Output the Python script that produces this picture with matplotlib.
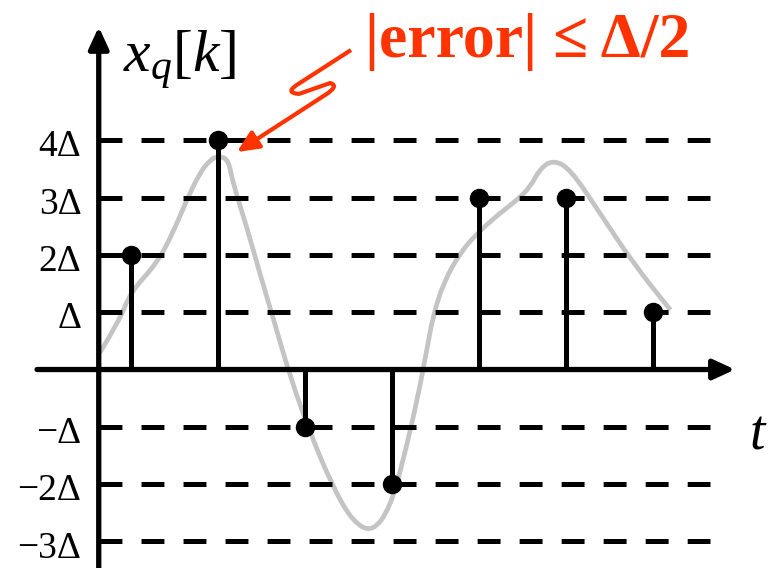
import matplotlib
matplotlib.use("Agg")
from matplotlib import pyplot as plt
from matplotlib.path import Path
from matplotlib.patches import PathPatch

plt.rcParams['font.family'] = ['Liberation Serif', 'DejaVu Serif']
plt.rcParams['mathtext.fontset'] = 'custom'
plt.rcParams['mathtext.rm'] = 'Liberation Serif'
plt.rcParams['mathtext.it'] = 'Liberation Serif:italic'
plt.rcParams['lines.scale_dashes'] = False

# quantized samples x_q[k], in units of delta
sample_t = [0, 1, 2, 3, 4, 5, 6]
sample_q = [2, 4, -1, -2, 3, 3, 1]

# quantization levels and their labels
levels = [4, 3, 2, 1, -1, -2, -3]
level_labels = ['4Δ', '3Δ', '2Δ', 'Δ', '−Δ', '−2Δ', '−3Δ']

# underlying continuous signal (same units)
curve_t = [-0.36, -0.13, -0.01, 0.30, 0.48, 0.64, 0.79, 0.91, 1.01, 1.12, 1.17,
           1.33, 1.48, 1.63, 1.83, 2.06, 2.32, 2.55, 2.78, 2.98, 3.13, 3.29,
           3.40, 3.47, 3.59, 3.78, 3.98, 4.24, 4.44, 4.59, 4.70, 4.85, 5.05,
           5.39, 5.77, 6.20]
curve_v = [0.29, 0.86, 1.34, 1.86, 2.38, 2.96, 3.43, 3.66, 3.73, 3.66, 3.26,
           2.49, 1.68, 0.92, -0.13, -1.11, -2.05, -2.66, -2.84, -2.40, -1.58, -0.53,
           0.34, 0.92, 1.51, 2.03, 2.38, 2.73, 2.96, 3.19, 3.50, 3.66, 3.50,
           2.73, 1.86, 1.04]

red = '#ff3300'


def smooth_path(xs, ys):
    # quadratic bezier through the midpoints, the read points act as controls
    pts = list(zip(xs, ys))
    verts = [pts[0]]
    codes = [Path.MOVETO]
    for i in range(1, len(pts) - 1):
        mid = ((pts[i][0] + pts[i + 1][0]) / 2, (pts[i][1] + pts[i + 1][1]) / 2)
        verts += [pts[i], mid]
        codes += [Path.CURVE3, Path.CURVE3]
    verts.append(pts[-1])
    codes.append(Path.LINETO)
    return Path(verts, codes)


fig = plt.figure(figsize=(7.72, 5.68), dpi=100)
ax = fig.add_axes([0, 0, 1, 1])
ax.set_xlim(-1.506, 7.368)
ax.set_ylim(-3.464, 6.449)
ax.axis('off')

y_axis_t = -0.371

# signal behind everything
ax.add_patch(PathPatch(smooth_path(curve_t, curve_v), fill=False,
                       edgecolor='#c4c4c4', lw=3.4, zorder=1))

# dashed level lines with labels
for lv, lab in zip(levels, level_labels):
    ax.plot([y_axis_t, 6.66], [lv, lv], color='black', lw=3.6,
            linestyle=(0, (16.5, 13.75)), zorder=2)
    ax.text(-0.57, lv - 0.05, lab, ha='right', va='center_baseline', fontsize=27)

# axes with arrow heads
head = '-|>,head_length=0.65,head_width=0.3'
ax.annotate('', xy=(6.943, 0), xytext=(-1.08, 0),
            arrowprops=dict(arrowstyle=head, lw=3.8, color='black', mutation_scale=20,
                            shrinkA=0, shrinkB=0), zorder=3)
ax.annotate('', xy=(y_axis_t, 5.98), xytext=(y_axis_t, -3.6),
            arrowprops=dict(arrowstyle=head, lw=3.8, color='black', mutation_scale=20,
                            shrinkA=0, shrinkB=0), zorder=3)

# stems
for t, q in zip(sample_t, sample_q):
    ax.plot([t, t], [0, q], color='black', lw=3.6, zorder=4, solid_capstyle='butt')
ax.plot(sample_t, sample_q, 'o', color='black', markersize=13, zorder=5)

ax.text(-0.09, 5.19, r'$x_q[k]$', fontsize=43, ha='left', va='baseline')
ax.text(7.21, -1.14, r'$t$', fontsize=40, ha='center', va='center')

ax.text(2.69, 5.45, '|error| ≤ Δ/2', color=red, fontsize=46, fontweight='bold',
        ha='left', va='baseline')

# zigzag pointer from the note to the 4Δ sample
zig = Path([(2.529, 5.576), (1.94, 5.00), (1.75, 4.83), (1.93, 4.81),
            (2.29, 5.00), (2.40, 4.95), (2.23, 4.79)],
           [Path.MOVETO, Path.LINETO, Path.CURVE3, Path.CURVE3,
            Path.LINETO, Path.CURVE3, Path.CURVE3])
ax.add_patch(PathPatch(zig, fill=False, edgecolor=red, lw=3.0, zorder=6,
                       capstyle='butt', joinstyle='round'))
ax.annotate('', xy=(1.218, 3.796), xytext=(2.23, 4.79),
            arrowprops=dict(arrowstyle=head, lw=3.0, color=red, mutation_scale=20,
                            shrinkA=0, shrinkB=0), zorder=6)

fig.savefig('out.png', dpi=100)
